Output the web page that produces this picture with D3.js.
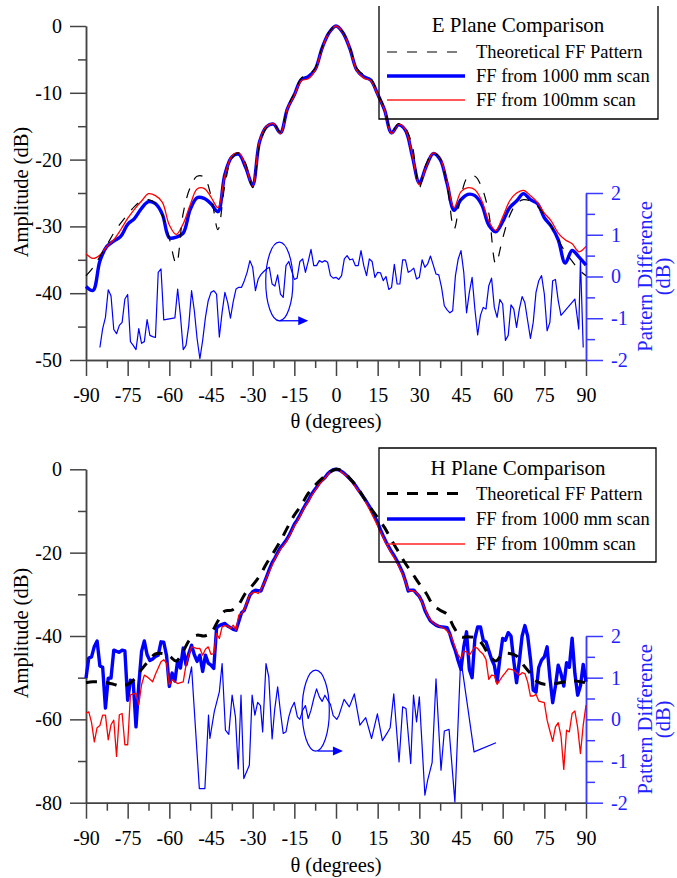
<!DOCTYPE html>
<html>
<head>
<meta charset="utf-8">
<script src="https://cdn.jsdelivr.net/npm/d3@7"></script>
<style>
  body { margin: 0; background: #fff; }
  svg text { font-family: "Liberation Serif", "Times New Roman", serif; }
</style>
</head>
<body>
<div id="container"></div>
<script>
// ---------- data: E plane (2.5 deg grid) ----------
var eDeg = d3.range(-90, 90.01, 2.5);
var eTheory = [
  -37.4, -36.2, -34.5, -32.8, -31.0, -29.5, -28.2, -27.0, -26.2, -26.0,
  -26.6, -28.4, -31.8, -35.6, -28.0, -24.2, -22.5, -22.6, -25.4, -30.5,
  -23.8, -19.8, -19.0, -20.6, -24.2, -17.8, -15.2, -14.6, -15.9, -12.2,
  -10.0, -7.8, -7.3, -6.3, -3.2, -0.9, 0,
  -0.9, -3.2, -6.3, -7.3, -7.8, -10.0, -12.3, -15.9, -14.6, -15.3,
  -18.0, -24.2, -20.6, -19.0, -19.8, -23.8, -30.4, -25.4, -22.6, -22.5,
  -24.2, -28.0, -35.6, -31.8, -28.4, -26.6, -26.0, -26.2, -27.0, -28.3,
  -30.0, -32.0, -33.8, -35.2, -36.5, -37.4
];
var eScan1000 = [
  -39.0, -39.6, -35.2, -33.0, -32.2, -31.5, -29.7, -28.8, -27.3, -26.3,
  -26.6, -28.2, -31.7, -31.6, -31.0, -27.5, -25.7, -25.8, -26.6, -27.8,
  -22.2, -19.6, -19.2, -21.2, -23.8, -17.3, -15.1, -14.7, -16.0, -12.4,
  -10.3, -8.0, -7.6, -6.5, -3.3, -1.0, 0,
  -1.0, -3.4, -6.6, -7.6, -8.1, -10.2, -12.6, -16.0, -14.8, -15.6,
  -19.5, -23.5, -21.0, -19.1, -20.0, -23.6, -27.6, -26.0, -25.2, -25.4,
  -26.8, -29.8, -30.8, -29.3, -27.2, -26.2, -25.1, -26.0, -26.6, -28.7,
  -30.0, -32.0, -35.5, -33.6, -34.6, -35.8
];
var eScan100 = [
  -34.1, -34.8, -34.3, -33.0, -32.0, -30.5, -28.8, -27.4, -26.2, -25.1,
  -25.4, -26.4, -29.8, -31.2, -29.6, -26.8, -24.4, -24.3, -25.6, -27.2,
  -22.4, -19.5, -19.0, -21.0, -24.0, -17.2, -15.0, -14.6, -16.1, -12.4,
  -10.4, -8.2, -7.9, -6.6, -3.4, -1.0, 0,
  -1.0, -3.4, -6.7, -7.8, -8.2, -10.3, -12.6, -16.1, -14.7, -15.5,
  -19.4, -23.8, -21.0, -19.0, -19.8, -23.4, -27.2, -24.8, -24.2, -24.5,
  -26.2, -29.2, -30.6, -28.6, -26.2, -25.0, -24.6, -25.4, -26.4, -28.0,
  -29.2, -31.0, -32.0, -32.6, -33.8, -33.0
];
// pattern difference (right axis, dB)
var eDiffDeg = [
  -85, -84, -83, -82, -81, -80, -79, -78, -77, -76, -75, -74, -73, -72, -71, -70,
  -69, -68, -67, -66, -65, -64, -63, -62, -58, -57, -56, -55, -54, -53, -52, -51,
  -50, -49, -48, -47, -46, -45, -44, -43, -42, -41, -40, -39, -38, -37, -36, -35,
  -34, -33, -32, -31, -30, -29, -28, -27, -26, -25, -24, -23, -22, -21, -20, -19,
  -18, -17, -16, -15, -14, -13, -12, -11, -10, -9, -8, -7, -6, -5, -4, -3,
  -2, -1, 0, 1, 2, 3, 4, 5, 6, 7, 8, 9, 10, 11, 12, 13,
  14, 15, 16, 17, 18, 19, 20, 21, 22, 23, 24, 25, 26, 27, 28, 29,
  30, 31, 32, 33, 34, 35, 36, 37, 38, 39, 40, 41, 42, 43, 44, 45,
  46, 47, 48, 49, 50, 51, 52, 53, 54, 55, 56, 57, 58, 59, 60, 61,
  62, 63, 64, 65, 66, 67, 68, 69, 70, 71, 72, 73, 74, 75, 76, 77,
  78, 79, 80, 81, 86, 87.4, 88, 89
];
var eDiffVal = [
  -1.70, -1.25, -0.98, -0.32, -0.46, -1.27, -1.37, -1.17, -1.10, -0.54, -0.43, -1.56, -1.65, -1.75, -1.25, -1.60,
  -1.56, -1.03, -1.41, -1.44, -1.46, 0.10, 0.18, -1.04, -0.99, -0.30, -0.94, -1.75, -1.65, -1.17, -0.34, -0.82,
  -1.49, -1.97, -1.53, -0.98, -0.58, -0.38, -0.34, -0.42, -1.45, -0.86, -0.38, -0.62, -1.00, -0.60, -0.30, -0.26,
  -0.26, -0.10, 0.10, 0.38, 0.22, -0.34, -0.06, 0.05, 0.12, 0.18, 0.22, -0.18, -0.23, 0.04, -0.42, -0.50,
  0.26, 0.36, 0.14, -0.07, -0.04, 0.36, 0.42, 0.10, 0.36, 0.65, 0.26, 0.26, 0.38, 0.34, 0.38, 0.34,
  0.02, -0.04, -0.02, -0.07, 0.02, 0.42, 0.50, 0.40, 0.42, 0.26, 0.26, 0.62, 0.26, 0.02, 0.42, 0.36,
  -0.02, 0.10, 0.09, -0.10, 0.00, -0.31, -0.26, 0.29, -0.18, -0.18, 0.40, 0.40, 0.10, 0.14, 0.20, -0.06,
  -0.02, 0.40, 0.22, 0.30, 0.49, 0.28, 0.06, 0.04, -0.26, -0.70, -0.80, -0.87, -0.82, 0.02, 0.42, 0.62,
  0.10, -0.87, -0.38, -0.02, -0.78, -1.40, -0.93, -0.74, -0.78, -0.22, -0.04, -0.74, -0.98, -0.55, -0.66, -1.53,
  -1.41, -0.68, -0.78, -1.22, -0.78, -0.48, -0.63, -1.06, -1.48, -1.10, -0.38, -0.10, 0.02, -0.42, -1.30, -1.10,
  -0.10, -0.07, -0.58, -0.93, -0.54, -1.26, 0.40, -1.70
];

// ---------- data: H plane ----------
var hDeg = d3.range(-90, 90.01, 2.5);
var hTheory = [
  -51.2, -51.0, -51.0, -51.2, -51.6, -52.0, -51.6, -50.3, -48.0, -46.0,
  -44.3, -44.2, -44.8, -46.0, -43.6, -40.8, -39.8, -40.0, -39.2, -36.4,
  -34.0, -33.8, -32.4, -29.6, -27.8, -25.6, -22.6, -20.0, -17.2, -14.0,
  -11.0, -8.6, -5.8, -3.8, -2.2, -0.8, 0,
  -0.5, -2.2, -4.2, -6.8, -9.3, -11.6, -14.0, -17.0, -19.8, -22.6,
  -25.0, -27.5, -29.8, -32.6, -33.8, -34.8, -38.0, -40.2, -40.2, -40.4,
  -41.8, -44.5, -46.0, -44.3, -44.2, -44.8, -47.0, -49.0, -51.0, -51.6,
  -51.6, -51.3, -51.0, -50.7, -50.9, -51.2
];
var hScanDeg = d3.range(-90, 90.01, 1);
var hScan1000 = [
  -50.1, -45.3, -45.0, -42.5, -41.2, -47.2, -47.5, -57.3, -50.1, -50.1,
  -43.4, -43.7, -43.9, -43.4, -43.6, -55.4, -50.6, -51.0, -61.8, -51.7,
  -43.7, -41.2, -44.5, -45.9, -45.5, -44.9, -44.6, -41.4, -41.5, -44.7,
  -52.1, -48.9, -50.8, -45.9, -47.7, -42.9, -46.9, -44.2, -42.2, -44.5,
  -46.1, -44.6, -48.5, -44.6, -46.5, -47.0, -47.8, -38.1, -37.5, -37.2,
  -37.0, -37.6, -38.0, -38.4, -38.6, -36.5, -34.4, -33.8, -32.0, -30.2,
  -29.4, -29.0, -29.1, -29.2, -27.5, -25.8, -24.0, -22.4, -21.3, -20.0,
  -18.8, -18.0, -17.1, -16.0, -14.6, -13.2, -12.2, -11.0, -9.7, -8.5,
  -7.5, -6.2, -5.2, -4.3, -3.3, -2.6, -2.0, -1.1, -0.5, -0.1,
  0,
  -0.1, -0.5, -1.0, -1.6, -2.3, -3.0, -3.9, -4.9, -5.8, -6.8,
  -7.8, -8.9, -10.1, -11.4, -12.8, -14.5, -16.0, -17.4, -18.6, -19.8,
  -20.8, -22.0, -23.4, -24.8, -26.8, -29.2, -29.0, -29.0, -29.8, -30.5,
  -31.8, -33.8, -35.2, -36.4, -36.9, -37.4, -37.7, -37.8, -37.9, -38.0,
  -39.5, -41.8, -43.6, -46.0, -48.0, -42.6, -39.0, -48.0, -50.0, -40.6,
  -37.8, -37.8, -41.0, -41.4, -43.5, -45.6, -47.0, -51.0, -45.4, -40.6,
  -41.0, -39.2, -40.0, -46.0, -51.2, -46.0, -40.0, -37.5, -40.0, -45.5,
  -53.0, -53.5, -47.5, -45.8, -45.0, -42.6, -50.0, -56.0, -52.0, -47.0,
  -49.0, -52.0, -46.4, -47.5, -40.5, -49.0, -54.2, -52.0, -46.8, -51.0
];
var hScan100 = [
  -58.5, -58.2, -60.8, -65.4, -62.0, -61.5, -59.0, -59.0, -64.9, -61.3,
  -60.2, -68.9, -58.9, -58.6, -66.1, -66.1, -54.1, -53.9, -53.7, -56.5,
  -51.7, -49.4, -49.8, -50.4, -51.0, -49.2, -47.7, -46.2, -45.7, -46.5,
  -51.7, -50.5, -51.0, -51.4, -51.2, -51.0, -47.0, -44.6, -42.6, -42.8,
  -43.0, -43.0, -44.6, -43.2, -42.6, -44.4, -44.2, -39.4, -40.6, -37.8,
  -37.5, -37.6, -38.2, -37.4, -38.6, -35.0, -34.6, -33.6, -31.8, -30.0,
  -29.6, -29.5, -29.8, -28.8, -27.5, -26.0, -24.5, -23.0, -21.5, -20.3,
  -19.2, -18.3, -17.5, -16.3, -15.0, -13.6, -12.6, -11.3, -10.0, -8.8,
  -7.8, -6.6, -5.5, -4.6, -3.6, -2.8, -2.1, -1.3, -0.6, -0.2,
  0,
  -0.2, -0.7, -1.2, -1.8, -2.5, -3.3, -4.2, -5.1, -6.1, -7.1,
  -8.3, -9.6, -10.9, -12.2, -13.6, -15.0, -16.4, -17.8, -19.0, -20.2,
  -21.3, -22.5, -23.8, -25.2, -27.0, -29.0, -29.2, -29.2, -29.6, -30.6,
  -32.0, -33.4, -35.0, -36.2, -36.8, -37.3, -37.6, -37.9, -38.2, -38.8,
  -39.6, -41.0, -43.0, -44.6, -45.4, -43.6, -43.8, -44.6, -43.6, -42.6,
  -43.0, -43.8, -44.4, -45.6, -50.4, -49.4, -49.5, -51.6, -50.6, -49.6,
  -48.8, -47.9, -48.0, -48.2, -48.8, -49.4, -48.8, -49.0, -51.0, -54.4,
  -54.4, -54.0, -55.6, -55.8, -56.0, -60.2, -62.8, -65.3, -61.8, -60.8,
  -64.0, -72.0, -62.6, -63.0, -58.6, -58.0, -62.0, -68.2, -61.4, -56.6
];
var hDiffDeg = [
  -53.2, -52.0, -49.2, -47.2, -45.9, -45.4, -43.8, -42.0, -41.0, -39.8, -38.6, -37.4, -36.2, -35.2, -34.2, -33.2,
  -31.2, -30.2, -29.2, -28.2, -27.2, -26.4, -25.2, -24.2, -23.0, -22.1, -21.0, -20.0, -19.0, -18.0, -17.0, -16.1,
  -15.0, -13.9, -13.0, -12.0, -11.0, -10.0, -9.0, -8.0, -7.0, -6.0, -5.0, -4.0, -3.0, -2.0, -1.0, 0.3,
  1.1, 2.9, 4.8, 6.6, 8.6, 10.7, 12.8, 14.9, 16.7, 18.5, 19.5, 20.8, 22.7, 24.0, 25.2, 26.9,
  27.9, 29.0, 30.0, 32.0, 33.0, 34.6, 36.0, 37.8, 39.0, 40.7, 42.8, 44.9, 49.7, 57.6
];
var hDiffVal = [
  0.86, 1.26, -1.66, -1.66, 0.10, -0.46, 0.19, 0.66, 1.34, -0.26, -0.36, 0.58, 0.06, -1.19, 0.58, -1.42,
  -1.10, 0.58, 0.10, 0.41, 0.33, -0.30, 1.34, 1.02, -0.47, 0.22, 0.78, 0.18, -0.34, -0.30, 0.06, 0.26,
  0.41, 0.06, 0.00, 0.22, 0.33, 0.02, 0.22, 0.50, 0.73, 0.54, 0.43, 0.58, 0.46, 0.36, 0.09, 0.00,
  0.10, 0.48, 0.30, 0.61, -0.14, 0.04, -0.46, 0.13, -0.51, -0.32, -0.20, 0.61, -1.02, 0.30, 0.26, -1.06,
  0.58, -0.06, 0.54, -1.82, -1.46, -1.04, 0.97, -1.22, -0.28, -0.24, -1.98, 1.47, -0.78, -0.56
];

var xMajor = d3.range(-90, 91, 15);
var xMinor = d3.range(-82.5, 90, 15);
var diffTicks = [-2, -1, 0, 1, 2];
var diffMinor = [-1.5, -0.5, 0.5, 1.5];
var legendLabels = ["Theoretical FF Pattern", "FF from 1000 mm scan", "FF from 100mm scan"];

// ---------- drawing ----------
var FONT = '"Liberation Serif", "Times New Roman", serif';
var BLUE = "#0000ff", AXBLUE = "#3a3aff", TXTBLUE = "#2222ff";

var svg = d3.select("#container").append("svg")
  .attr("width", 677)
  .attr("height", 878);

var x = d3.scaleLinear().domain([-90, 90]).range([86, 586]);

function styleAxis(g, color, size) {
  g.attr("font-family", FONT).attr("font-size", size);
  g.select(".domain").attr("stroke", color).attr("stroke-width", 1.5);
  g.selectAll(".tick line").attr("stroke", color).attr("stroke-width", 1.5);
  g.selectAll(".tick text").attr("fill", color === AXBLUE ? TXTBLUE : "#000");
}

function drawPanel(p) {
  var y = d3.scaleLinear().domain(p.yDomain).range([p.bottom, p.top]);
  var yR = d3.scaleLinear().domain([-2, 2]).range([p.bottom, p.rTop]);
  var fmt = function (d) { return String(d); };

  // x axis
  svg.append("g").attr("transform", "translate(0," + p.bottom + ")")
    .call(d3.axisBottom(x).tickValues(xMinor).tickSize(8).tickSizeOuter(0).tickFormat(""))
    .call(styleAxis, "#444", 20);
  svg.append("g").attr("transform", "translate(0," + p.bottom + ")")
    .call(d3.axisBottom(x).tickValues(xMajor).tickSize(16).tickSizeOuter(0).tickPadding(12).tickFormat(fmt))
    .call(styleAxis, "#444", 20);

  // left axis
  svg.append("g").attr("transform", "translate(86,0)")
    .call(d3.axisLeft(y).tickValues(p.yMinor).tickSize(8).tickSizeOuter(0).tickFormat(""))
    .call(styleAxis, "#444", 20);
  svg.append("g").attr("transform", "translate(86,0)")
    .call(d3.axisLeft(y).tickValues(p.yMajor).tickSize(16).tickSizeOuter(0).tickPadding(8).tickFormat(fmt))
    .call(styleAxis, "#444", 20);

  // right axis (pattern difference)
  svg.append("g").attr("transform", "translate(586,0)")
    .call(d3.axisRight(yR).tickValues(diffMinor).tickSize(9).tickSizeOuter(0).tickFormat(""))
    .call(styleAxis, AXBLUE, 20);
  svg.append("g").attr("transform", "translate(586,0)")
    .call(d3.axisRight(yR).tickValues(diffTicks).tickSize(17).tickSizeOuter(0).tickPadding(8).tickFormat(fmt))
    .call(styleAxis, AXBLUE, 20);

  // axis titles
  svg.append("text")
    .attr("x", 336).attr("y", p.xTitleY)
    .attr("text-anchor", "middle")
    .attr("font-family", FONT).attr("font-size", 20.5)
    .text("θ (degrees)");
  svg.append("text")
    .attr("transform", "translate(28," + p.leftTitleY + ") rotate(-90)")
    .attr("text-anchor", "middle")
    .attr("font-family", FONT).attr("font-size", 20.5)
    .text("Amplitude (dB)");
  var rMid = (p.bottom + p.rTop) / 2;
  svg.append("text")
    .attr("transform", "translate(652," + rMid + ") rotate(-90)")
    .attr("text-anchor", "middle")
    .attr("font-family", FONT).attr("font-size", 20.5).attr("fill", TXTBLUE)
    .text("Pattern Difference");
  svg.append("text")
    .attr("transform", "translate(670," + rMid + ") rotate(-90)")
    .attr("text-anchor", "middle")
    .attr("font-family", FONT).attr("font-size", 20.5).attr("fill", TXTBLUE)
    .text("(dB)");

  // difference line
  var diffLine = d3.line().x(function (d) { return x(d[0]); }).y(function (d) { return yR(d[1]); });
  svg.append("path")
    .datum(d3.zip(p.diffDeg, p.diffVal))
    .attr("d", diffLine)
    .attr("fill", "none").attr("stroke", BLUE).attr("stroke-width", 1.2)
    .attr("stroke-linejoin", "round");

  // amplitude curves
  var smooth = d3.line().x(function (d) { return x(d[0]); }).y(function (d) { return y(d[1]); })
    .curve(d3.curveCatmullRom.alpha(0.5));
  var measLine = p.measSmooth ? smooth
    : d3.line().x(function (d) { return x(d[0]); }).y(function (d) { return y(d[1]); });

  svg.append("path")
    .datum(d3.zip(p.measDeg, p.scan1000))
    .attr("d", measLine)
    .attr("fill", "none").attr("stroke", BLUE).attr("stroke-width", 3.4)
    .attr("stroke-linejoin", "round");
  svg.append("path")
    .datum(d3.zip(p.measDeg, p.scan100))
    .attr("d", measLine)
    .attr("fill", "none").attr("stroke", "#ff0000").attr("stroke-width", 1.3)
    .attr("stroke-linejoin", "round");
  svg.append("path")
    .datum(d3.zip(p.theoryDeg, p.theory))
    .attr("d", smooth)
    .attr("fill", "none").attr("stroke", "#000").attr("stroke-width", p.dashWidth)
    .attr("stroke-dasharray", p.dash);

  // ellipse + arrow annotation
  var a = p.note;
  svg.append("ellipse")
    .attr("cx", x(a.deg)).attr("cy", yR(a.val))
    .attr("rx", 13.6).attr("ry", a.ry)
    .attr("fill", "none").attr("stroke", BLUE).attr("stroke-width", 1.2);
  var ax0 = x(a.arrowFrom), ax1 = x(a.arrowTo), ay = yR(a.arrowVal);
  svg.append("line")
    .attr("x1", ax0).attr("x2", ax1 - 4).attr("y1", ay).attr("y2", ay)
    .attr("stroke", BLUE).attr("stroke-width", 1.3);
  svg.append("path")
    .attr("d", "M" + ax1 + "," + ay + "L" + (ax1 - 10) + "," + (ay - 4.5) + "L" + (ax1 - 10) + "," + (ay + 4.5) + "Z")
    .attr("fill", BLUE);

  // legend
  var L = p.legend;
  var box = svg.append("path")
    .attr("fill", "none").attr("stroke", "#000").attr("stroke-width", 1.3);
  if (L.openTop) {
    box.attr("d", "M" + L.x0 + "," + L.y0 + "V" + L.y1 + "H" + L.x1 + "V" + L.y0);
  } else {
    box.attr("d", "M" + L.x0 + "," + L.y0 + "V" + L.y1 + "H" + L.x1 + "V" + L.y0 + "Z");
  }
  svg.append("text")
    .attr("x", 518).attr("y", L.titleY)
    .attr("text-anchor", "middle")
    .attr("font-family", FONT).attr("font-size", 21)
    .text(L.title);
  var styles = [
    { stroke: "#000", width: p.dashWidth, dash: p.dash },
    { stroke: BLUE, width: 3.4, dash: null },
    { stroke: "#ff2020", width: 1.3, dash: null }
  ];
  legendLabels.forEach(function (lab, i) {
    svg.append("line")
      .attr("x1", 387).attr("x2", 465)
      .attr("y1", L.rowY[i]).attr("y2", L.rowY[i])
      .attr("stroke", styles[i].stroke).attr("stroke-width", styles[i].width)
      .attr("stroke-dasharray", styles[i].dash);
    svg.append("text")
      .attr("x", 476).attr("y", L.rowY[i] + 6.3)
      .attr("font-family", FONT).attr("font-size", 18.5)
      .text(lab);
  });
}

drawPanel({
  top: 26, bottom: 360, rTop: 193,
  yDomain: [-50, 0],
  yMajor: [0, -10, -20, -30, -40, -50],
  yMinor: [-5, -15, -25, -35, -45],
  xTitleY: 428, leftTitleY: 192,
  theoryDeg: eDeg, theory: eTheory,
  measDeg: eDeg, scan1000: eScan1000, scan100: eScan100, measSmooth: true,
  diffDeg: eDiffDeg, diffVal: eDiffVal,
  dashWidth: 1.2, dash: "10,10",
  note: { deg: -20.4, val: -0.12, ry: 39.3, arrowFrom: -20.3, arrowTo: -10.0, arrowVal: -1.06 },
  legend: { x0: 379, x1: 658, y0: 6, y1: 119, openTop: true, title: "E Plane Comparison",
            titleY: 32, rowY: [52, 76, 100] }
});

drawPanel({
  top: 469.3, bottom: 802.7, rTop: 636,
  yDomain: [-80, 0],
  yMajor: [0, -20, -40, -60, -80],
  yMinor: [-10, -30, -50, -70],
  xTitleY: 872, leftTitleY: 633,
  theoryDeg: hDeg, theory: hTheory,
  measDeg: hScanDeg, scan1000: hScan1000, scan100: hScan100, measSmooth: false,
  diffDeg: hDiffDeg, diffVal: hDiffVal,
  dashWidth: 3, dash: "11,9",
  note: { deg: -7.3, val: 0.21, ry: 40.5, arrowFrom: -6.6, arrowTo: 2.5, arrowVal: -0.76 },
  legend: { x0: 379, x1: 656, y0: 448, y1: 562, openTop: false, title: "H Plane Comparison",
            titleY: 475, rowY: [493.5, 519, 544] }
});
</script>
</body>
</html>
